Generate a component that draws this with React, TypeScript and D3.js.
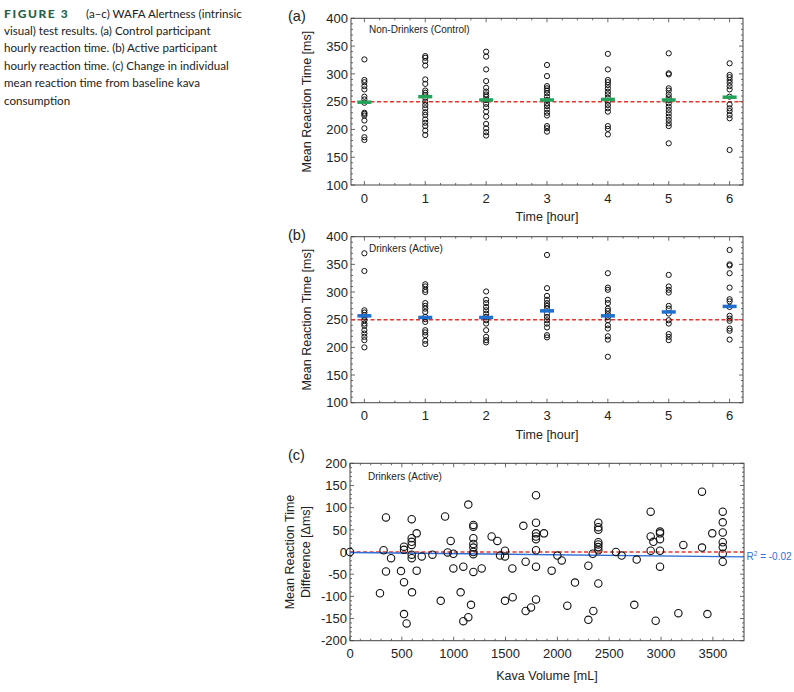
import React from 'react';
import * as d3 from 'd3';

// ---------- DATA ----------
const hours = [0, 1, 2, 3, 4, 5, 6];
const controlRT: number[][] = [
  [326, 289, 285, 278, 272, 259, 254, 248, 230, 228, 225, 216, 202, 186, 181],
  [332, 329, 323, 315, 290, 282, 270, 266, 262, 257, 250, 244, 238, 231, 226, 218, 212, 206, 198, 190],
  [340, 331, 308, 287, 275, 268, 263, 259, 253, 246, 240, 232, 223, 210, 202, 195, 189],
  [316, 296, 278, 274, 270, 265, 259, 253, 247, 242, 236, 230, 225, 206, 202, 196],
  [336, 308, 289, 285, 280, 274, 268, 263, 257, 250, 244, 238, 232, 206, 201, 191],
  [337, 301, 299, 274, 270, 263, 258, 253, 247, 241, 235, 229, 223, 217, 211, 206, 175],
  [319, 298, 294, 289, 284, 278, 272, 259, 245, 238, 233, 226, 220, 163],
];
const controlMean = [249, 259, 253, 253, 254, 253, 258];
const activeRT: number[][] = [
  [370, 338, 267, 263, 258, 254, 249, 243, 239, 231, 225, 219, 213, 200],
  [314, 310, 304, 300, 280, 275, 270, 264, 255, 251, 246, 231, 227, 222, 212, 206],
  [301, 286, 280, 273, 267, 261, 255, 249, 243, 231, 219, 213, 209],
  [367, 307, 293, 286, 280, 275, 270, 261, 255, 249, 243, 236, 222, 218],
  [334, 308, 304, 286, 280, 270, 266, 260, 255, 249, 240, 234, 220, 214, 183],
  [331, 310, 304, 299, 275, 270, 261, 249, 243, 224, 219, 213],
  [376, 350, 348, 334, 308, 287, 283, 273, 257, 252, 248, 234, 230, 214],
];
const activeMean = [257, 254, 254, 266, 257, 264, 274];
const rtTicks = [100, 150, 200, 250, 300, 350, 400];
const baselineRT = 250;

const kavaVolume = [
  0, 289, 324, 347, 347, 396, 492, 521, 521, 521, 521, 546, 595, 595, 595, 595, 595, 595, 598, 643,
  643, 692, 795, 875, 917, 942, 971, 997, 997, 1067, 1093, 1093, 1141, 1141, 1167, 1190, 1190, 1190, 1190, 1190,
  1190, 1190, 1190, 1270, 1366, 1421, 1447, 1495, 1495, 1495, 1566, 1569, 1672, 1694, 1694, 1746, 1794, 1794, 1794, 1794,
  1794, 1794, 1794, 1794, 1871, 1945, 2000, 2042, 2096, 2170, 2299, 2299, 2341, 2347, 2395, 2395, 2395, 2395, 2395, 2395,
  2395, 2395, 2565, 2620, 2742, 2765, 2900, 2900, 2926, 2900, 2948, 2990, 2990, 2990, 2990, 2990, 3167, 3215, 3395, 3395,
  3447, 3494, 3595, 3595, 3595, 3595, 3595, 3595, 3595,
];
const rtDifference = [
  0, -93, 4, 78, -44, -14, -43, 12, 5, -68, -140, -161, 74, 31, 23, 16, -6, -14, -91, 42,
  -42, -10, -6, -110, 80, -1, 25, -4, -37, -91, -33, -156, 107, -147, -119, 61, 57, 31, 18, 10,
  0, -5, -45, -37, 35, 25, -8, 3, -10, -110, -37, -102, 59, -22, -133, -125, 128, 66, 42, 35,
  29, 4, -33, -107, 42, -42, -8, -19, -121, -69, -31, -153, -4, -133, 66, 56, 50, 22, 17, 11,
  4, -71, 0, -8, -119, -17, 91, 35, 23, 3, -155, 46, 42, 29, 3, -33, -138, 16, 136, 10,
  -140, 42, 91, 67, 44, 22, 11, -4, -22,
];
const diffTicks = [-200, -150, -100, -50, 0, 50, 100, 150, 200];
const kavaTicks = [0, 500, 1000, 1500, 2000, 2500, 3000, 3500];
const fitKava = [0, 3800];
const fitDiff = [-1, -11];
const fitR2 = '-0.02';

const captionLines = [
  'visual) test results. (a) Control participant',
  'hourly reaction time. (b) Active participant',
  'hourly reaction time. (c) Change in individual',
  'mean reaction time from baseline kava',
  'consumption',
];

// ---------- STYLE ----------
const FONT = "'Liberation Sans', Arial, sans-serif";
const FRAME = '#444';
const TXT = '#222';
const RED = '#e8352c';

type StripProps = {
  top: number; bottom: number; left: number; right: number;
  data: number[][]; means: number[]; meanColor: string;
  letter: string; title: string;
};

function Ticks({ xs, ys, xMinor, yMinor, left, right, top, bottom }: any) {
  const els: any[] = [];
  const maj = 4, min = 2;
  xs.forEach((x: number, i: number) => {
    els.push(<line key={'xb' + i} x1={x} x2={x} y1={bottom} y2={bottom - maj} />);
    els.push(<line key={'xt' + i} x1={x} x2={x} y1={top} y2={top + maj} />);
  });
  xMinor.forEach((x: number, i: number) => {
    els.push(<line key={'xmb' + i} x1={x} x2={x} y1={bottom} y2={bottom - min} />);
    els.push(<line key={'xmt' + i} x1={x} x2={x} y1={top} y2={top + min} />);
  });
  ys.forEach((y: number, i: number) => {
    els.push(<line key={'yl' + i} x1={left} x2={left + maj} y1={y} y2={y} />);
    els.push(<line key={'yr' + i} x1={right} x2={right - maj} y1={y} y2={y} />);
  });
  yMinor.forEach((y: number, i: number) => {
    els.push(<line key={'yml' + i} x1={left} x2={left + min} y1={y} y2={y} />);
    els.push(<line key={'ymr' + i} x1={right} x2={right - min} y1={y} y2={y} />);
  });
  return <g stroke={FRAME} strokeWidth={0.8}>{els}</g>;
}

function StripPanel(p: StripProps) {
  const x = d3.scaleLinear().domain([-0.22, 6.22]).range([p.left, p.right]);
  const y = d3.scaleLinear().domain([100, 400]).range([p.bottom, p.top]);
  const xMinor = d3.range(0, 6.01, 0.25).filter((v) => v % 1 !== 0);
  const yMinor = d3.range(110, 400, 10).filter((v) => v % 50 !== 0);
  return (
    <g>
      <text x={288} y={p.top + 3} fontSize={14.5} fill={TXT} fontFamily={FONT}>{p.letter}</text>
      <Ticks xs={hours.map(x)} ys={rtTicks.map(y)} xMinor={xMinor.map(x)} yMinor={yMinor.map(y)}
        left={p.left} right={p.right} top={p.top} bottom={p.bottom} />
      <rect x={p.left} y={p.top} width={p.right - p.left} height={p.bottom - p.top}
        fill="none" stroke={FRAME} strokeWidth={1} />
      {rtTicks.map((t) => (
        <text key={t} x={p.left - 3} y={y(t)} dy="0.36em" textAnchor="end" fontSize={13}
          fill={TXT} fontFamily={FONT}>{t}</text>
      ))}
      {hours.map((h) => (
        <text key={h} x={x(h)} y={p.bottom + 17.5} textAnchor="middle" fontSize={13}
          fill={TXT} fontFamily={FONT}>{h}</text>
      ))}
      <text x={(p.left + p.right) / 2} y={p.bottom + 36} textAnchor="middle" fontSize={12.5}
        fill={TXT} fontFamily={FONT}>Time [hour]</text>
      <text transform={`translate(306.5,${(p.top + p.bottom) / 2}) rotate(-90)`} dy="0.36em"
        textAnchor="middle" fontSize={12.5} fill={TXT} fontFamily={FONT}>Mean Reaction Time [ms]</text>
      <text x={p.left + 18} y={p.top + 15} fontSize={10} fill={TXT} fontFamily={FONT}>{p.title}</text>
      <line x1={p.left} x2={p.right} y1={y(baselineRT)} y2={y(baselineRT)} stroke={RED}
        strokeWidth={1.5} strokeDasharray="4 2.5" />
      {p.data.map((col, i) => col.map((v, j) => (
        <circle key={i + '-' + j} cx={x(hours[i])} cy={y(v)} r={2.6} fill="none" stroke="#111" strokeWidth={1} />
      )))}
      {p.means.map((m, i) => (
        <line key={'m' + i} x1={x(hours[i]) - 7} x2={x(hours[i]) + 7} y1={y(m)} y2={y(m)}
          stroke={p.meanColor} strokeWidth={3.5} />
      ))}
    </g>
  );
}

function KavaPanel() {
  const left = 350, right = 744, top = 463.3, bottom = 640.7;
  const x = d3.scaleLinear().domain([0, 3800]).range([left, right]);
  const y = d3.scaleLinear().domain([-200, 200]).range([bottom, top]);
  const xMinor = d3.range(100, 3800, 100).filter((v) => v % 500 !== 0);
  const yMinor = d3.range(-190, 200, 10).filter((v) => v % 50 !== 0);
  const line = d3.line<number>().x((d, i) => x(fitKava[i])).y((d) => y(d));
  return (
    <g>
      <text x={288} y={top - 3} fontSize={14.5} fill={TXT} fontFamily={FONT}>(c)</text>
      <Ticks xs={kavaTicks.map(x)} ys={diffTicks.map(y)} xMinor={xMinor.map(x)} yMinor={yMinor.map(y)}
        left={left} right={right} top={top} bottom={bottom} />
      <rect x={left} y={top} width={right - left} height={bottom - top} fill="none" stroke={FRAME} strokeWidth={1} />
      {diffTicks.map((t) => (
        <text key={t} x={left - 3} y={y(t)} dy="0.36em" textAnchor="end" fontSize={13}
          fill={TXT} fontFamily={FONT}>{t}</text>
      ))}
      {kavaTicks.map((t) => (
        <text key={t} x={x(t)} y={bottom + 17} textAnchor="middle" fontSize={13}
          fill={TXT} fontFamily={FONT}>{t}</text>
      ))}
      <text x={547} y={bottom + 39} textAnchor="middle" fontSize={12.5} fill={TXT} fontFamily={FONT}>Kava Volume [mL]</text>
      <text transform={`translate(289,${(top + bottom) / 2}) rotate(-90)`} dy="0.36em"
        textAnchor="middle" fontSize={12.5} fill={TXT} fontFamily={FONT}>Mean Reaction Time</text>
      <text transform={`translate(305.5,${(top + bottom) / 2}) rotate(-90)`} dy="0.36em"
        textAnchor="middle" fontSize={12.5} fill={TXT} fontFamily={FONT}>Difference [Δms]</text>
      <text x={left + 18} y={top + 17} fontSize={10} fill={TXT} fontFamily={FONT}>Drinkers (Active)</text>
      <line x1={left} x2={right} y1={y(0)} y2={y(0)} stroke={RED} strokeWidth={1.5} strokeDasharray="4 2.5" />
      <path d={line(fitDiff) || ''} fill="none" stroke="#2f6fd6" strokeWidth={1.4} />
      {kavaVolume.map((k, i) => (
        <circle key={i} cx={x(k)} cy={y(rtDifference[i])} r={3.7} fill="none" stroke="#111" strokeWidth={1.1} />
      ))}
      <text x={right + 2.5} y={y(fitDiff[1]) + 3.5} fontSize={10} fill="#2f6fd6" fontFamily={FONT}>
        R<tspan fontSize={6.5} dy={-4}>2</tspan><tspan dy={4}>{' = ' + fitR2}</tspan>
      </text>
    </g>
  );
}

export default function App() {
  const cap = "Lato, 'Open Sans', sans-serif";
  return (
    <svg width={794} height={692} style={{ position: 'absolute', left: 0, top: 0, background: '#fff' }}>
      <rect width={794} height={692} fill="#fff" />
      <text x={4} y={17.5} fontFamily={cap} fontSize={12} fontWeight={900} letterSpacing={1.6} fill="#24634b">FIGURE 3</text>
      <text x={86} y={17.5} fontFamily={cap} fontSize={11.6} fill={TXT}>(a–c) WAFA Alertness (intrinsic</text>
      {captionLines.map((l, i) => (
        <text key={i} x={4} y={35 + i * 17.4} fontFamily={cap} fontSize={11.6} fill={TXT}>{l}</text>
      ))}
      <StripPanel top={18.3} bottom={185} left={351} right={743} data={controlRT} means={controlMean}
        meanColor="#23a35a" letter="(a)" title="Non-Drinkers (Control)" />
      <StripPanel top={236.7} bottom={402.7} left={351} right={743} data={activeRT} means={activeMean}
        meanColor="#1f6fd0" letter="(b)" title="Drinkers (Active)" />
      <KavaPanel />
    </svg>
  );
}
